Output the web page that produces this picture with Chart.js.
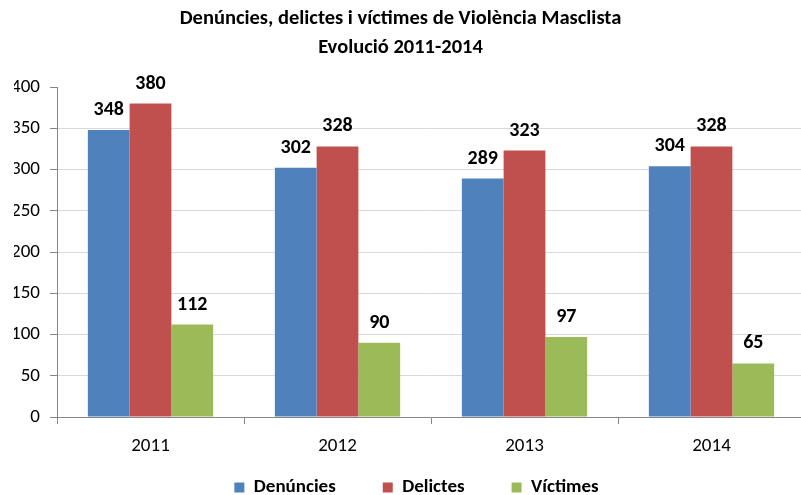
<!DOCTYPE html>
<html>
<head>
<meta charset="utf-8">
<script src="https://cdn.jsdelivr.net/npm/chart.js@4"></script>
<style>
    html, body { margin: 0; padding: 0; background: #fff; overflow: hidden; }
    #wrap { width: 812px; height: 529px; }
</style>
</head>
<body>
<div id="wrap"><canvas id="chart"></canvas></div>
<script>
// Chart data
const years = ['2011', '2012', '2013', '2014'];
const denuncies = [348, 302, 289, 304];
const delictes = [380, 328, 323, 328];
const victimes = [112, 90, 97, 65];
const yTicks = [0, 50, 100, 150, 200, 250, 300, 350, 400];

const FONT = "Carlito, Lato, 'DejaVu Sans', sans-serif";

// Draw the value above each bar
const valueLabels = {
    id: 'valueLabels',
    afterDatasetsDraw(chart) {
        const ctx = chart.ctx;
        ctx.save();
        ctx.font = 'bold 20px ' + FONT;
        ctx.fillStyle = '#000';
        ctx.textAlign = 'center';
        ctx.textBaseline = 'alphabetic';
        chart.data.datasets.forEach((ds, i) => {
            chart.getDatasetMeta(i).data.forEach((bar, j) => {
                ctx.fillText(String(ds.data[j]), bar.x, bar.y - 15);
            });
        });
        ctx.restore();
    }
};

// Nudge title and legend to where they sit in the original
const boxShift = {
    id: 'boxShift',
    afterLayout(chart) {
        const lg = chart.legend;
        if (lg) {
            lg.top -= 22;
            lg.bottom -= 22;
            lg.left += 7;
            lg.right += 7;
        }
        const tb = chart.titleBlock;
        if (tb) {
            tb.left -= 9;
            tb.right -= 9;
        }
    }
};

const ctx = document.getElementById('chart').getContext('2d');
const chart = new Chart(ctx, {
    type: 'bar',
    data: {
        labels: years,
        datasets: [
            { label: 'Denúncies', data: denuncies, backgroundColor: '#4F81BD' },
            { label: 'Delictes', data: delictes, backgroundColor: '#C0504D' },
            { label: 'Víctimes', data: victimes, backgroundColor: '#9BBB59' }
        ]
    },
    options: {
        responsive: true,
        maintainAspectRatio: false,
        animation: false,
        datasets: {
            bar: { categoryPercentage: 0.67, barPercentage: 1.0 }
        },
        layout: { padding: { left: 14, right: 7, top: 0, bottom: 0 } },
        plugins: {
            title: {
                display: true,
                text: ['Denúncies, delictes i víctimes de Violència Masclista', 'Evolució 2011-2014'],
                color: '#000',
                font: { family: FONT, size: 20.5, weight: 'bold', lineHeight: '29px' },
                padding: { top: 4, bottom: 25 }
            },
            legend: {
                position: 'bottom',
                labels: {
                    color: '#000',
                    font: { family: FONT, size: 19, weight: 'bold' },
                    boxWidth: 10,
                    boxHeight: 10,
                    padding: 47
                }
            },
            tooltip: { enabled: false }
        },
        scales: {
            x: {
                afterFit: s => { s.height = 36; },
                grid: {
                    drawOnChartArea: false,
                    color: '#868686',
                    tickColor: '#868686',
                    tickLength: 7
                },
                border: { color: '#868686' },
                ticks: {
                    color: '#000',
                    font: { family: FONT, size: 19 },
                    padding: 11
                }
            },
            y: {
                min: 0,
                max: 400,
                afterFit: s => { s.width = 43; },
                afterBuildTicks: s => { s.ticks = yTicks.map(v => ({ value: v })); },
                grid: {
                    color: c => (c.tick && c.tick.value === 400) ? 'rgba(0,0,0,0)' : '#D9D9D9',
                    tickColor: '#868686',
                    tickLength: 7
                },
                border: { color: '#868686' },
                ticks: {
                    color: '#000',
                    font: { family: FONT, size: 19 },
                    padding: 10
                }
            }
        }
    },
    plugins: [valueLabels, boxShift]
});
</script>
</body>
</html>
